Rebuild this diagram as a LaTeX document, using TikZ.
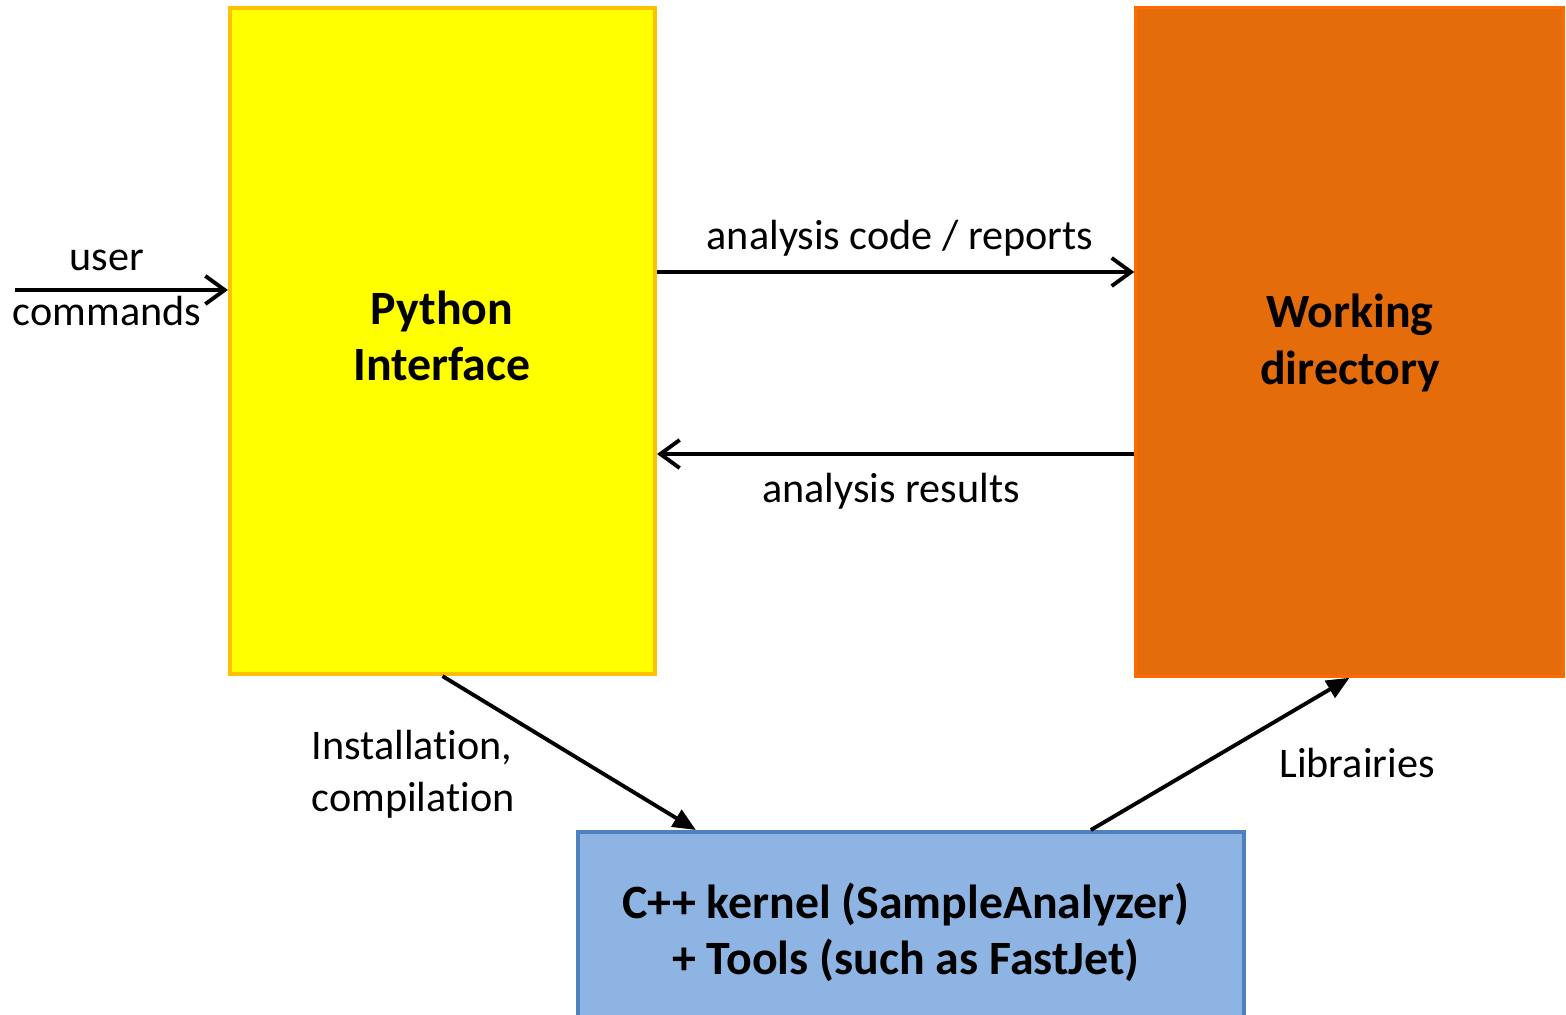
\documentclass[tikz,border=0pt]{standalone}
\usepackage{fontspec}
\setmainfont[Ligatures=NoCommon]{Carlito}
\usetikzlibrary{arrows.meta,calc}
\definecolor{pyfill}{HTML}{FFFF00}
\definecolor{pyline}{HTML}{FFC000}
\definecolor{wdfill}{HTML}{E46C0A}
\definecolor{wdline}{HTML}{FF6A00}
\definecolor{cpfill}{HTML}{8EB4E3}
\definecolor{cpline}{HTML}{4F81BD}
\begin{document}
\begin{tikzpicture}[x=0.01cm,y=-0.01cm,
  box/.style={rectangle, inner sep=0pt, font=\fontsize{13.6}{16}\selectfont\bfseries, align=center},
  lbl/.style={font=\fontsize{12}{14.5}\selectfont, inner sep=0pt},
  openarr/.style={line width=1.1pt, -{Straight Barb[length=5.5pt,width=8pt,line width=1.1pt]}},
  fillarr/.style={line width=1.1pt, -{Triangle[length=6.5pt,width=5.5pt]}}]
\useasboundingbox (0,0) rectangle (1566,1015);
\clip (0,0) rectangle (1566,1015);
\node[box, draw=pyline, fill=pyfill, line width=1.1pt, minimum width=4.25cm, minimum height=6.66cm] (py) at (442.5,341) {};
\node[box] (pyt) at (442,336) {Python\\Interface};
\node[box, draw=wdline, fill=wdfill, line width=0.9pt, minimum width=4.27cm, minimum height=6.68cm] (wd) at (1349.5,342) {};
\node[box] (wdt) at (1350,343) {Working\\directory};
\node[box, draw=cpline, fill=cpfill, line width=1.1pt, minimum width=6.66cm, minimum height=2.68cm] (cpp) at (911,966) {};
\node[box] (cpt) at (906,932) {C++ kernel (SampleAnalyzer)\\+ Tools (such as FastJet)};
% user commands
\coordinate (uc) at (15,290);
\draw[openarr] (uc) -- (uc -| py.west);
\node[lbl] (l1) at (107,260) {user};
\node[lbl] (l2) at (107,311) {commands};
% analysis code / reports
\coordinate (a1) at (0,272);
\draw[openarr] (py.east |- a1) -- (wd.west |- a1);
\node[lbl] (l3) at (900,238) {analysis code / reports};
% analysis results
\coordinate (a2) at (0,454);
\draw[openarr] (wd.west |- a2) -- (py.east |- a2);
\node[lbl] (l4) at (891,491) {analysis results};
% installation
\draw[fillarr] (py.south) -- ($(cpp.north west)+(120,0)$);
\node[lbl, align=left, anchor=west, font=\fontsize{12}{14.8}\selectfont] (l5) at (311,774) {Installation,\\compilation};
% libraries
\draw[fillarr] ($(cpp.north west)+(515,0)$) -- (wd.south);
\node[lbl] (l6) at (1357,763) {Librairies};
\end{tikzpicture}
\end{document}
